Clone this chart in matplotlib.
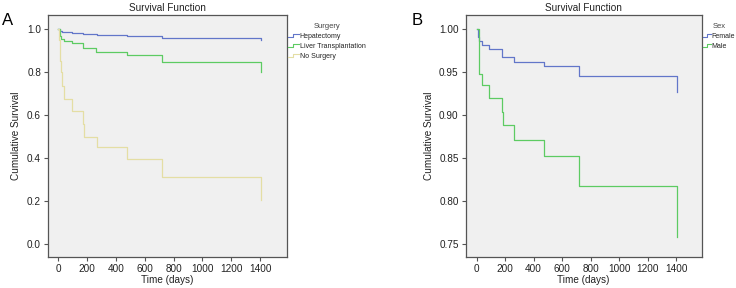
import matplotlib
matplotlib.use('Agg')
import matplotlib.pyplot as plt
from matplotlib.lines import Line2D
from matplotlib.legend_handler import HandlerBase

plt.rcParams['font.family'] = ['Liberation Sans', 'DejaVu Sans']

# survival data (days, cumulative survival)
HEP_TIME = [0, 10, 25, 93, 174, 266, 475, 717, 1405]
HEP_SURV = [1.0, 0.993, 0.988, 0.984, 0.977, 0.972, 0.966, 0.957, 0.948]

LT_TIME = [0, 10, 20, 40, 93, 174, 265, 475, 717, 1405]
LT_SURV = [1.0, 0.97, 0.955, 0.945, 0.935, 0.911, 0.894, 0.878, 0.847, 0.80]

NS_TIME = [0, 5, 10, 15, 20, 25, 40, 93, 174, 180, 266, 475, 717, 1405]
NS_SURV = [1.0, 0.95, 0.90, 0.85, 0.80, 0.735, 0.677, 0.62, 0.56, 0.50, 0.45, 0.398, 0.31, 0.205]

FEMALE_TIME = [0, 12, 18, 40, 89, 175, 180, 262, 475, 718, 1405]
FEMALE_SURV = [1.0, 0.991, 0.986, 0.982, 0.977, 0.972, 0.967, 0.962, 0.957, 0.945, 0.927]

MALE_TIME = [0, 15, 20, 40, 89, 175, 182, 262, 475, 718, 1405]
MALE_SURV = [1.0, 0.97, 0.948, 0.935, 0.92, 0.904, 0.888, 0.871, 0.852, 0.817, 0.758]

SURGERY_LABELS = ['Hepatectomy', 'Liver Transplantation', 'No Surgery']
SEX_LABELS = ['Female', 'Male']

X_TICKS = [0, 200, 400, 600, 800, 1000, 1200, 1400]
Y_TICKS_A = [0.0, 0.2, 0.4, 0.6, 0.8, 1.0]
Y_TICKS_B = [0.75, 0.80, 0.85, 0.90, 0.95, 1.00]

BLUE = '#6276c9'
GREEN = '#5dcb62'
YELLOW = '#e4dea4'
AX_BG = '#f0f0f0'
SPINE = '#555555'
TEXT = '#222222'


class StepHandler(HandlerBase):
    # SPSS style legend glyph: low on the left, step up, high on the right
    def create_artists(self, legend, orig, xd, yd, width, height, fontsize, trans):
        xs = [xd, xd + width * 0.45, xd + width * 0.45, xd + width]
        ys = [yd + height * 0.2, yd + height * 0.2, yd + height * 0.8, yd + height * 0.8]
        line = Line2D(xs, ys, color=orig.get_color(), lw=0.8)
        line.set_transform(trans)
        return [line]


def draw_panel(ax, curves, colors, labels, title, xlim, ylim, yticks, yfmt,
               legend_title, handle_len):
    ax.set_facecolor(AX_BG)
    handles = []
    for (t, s), c, lab in zip(curves, colors, labels):
        h, = ax.step(t, s, where='post', color=c, lw=0.9, label=lab)
        handles.append(h)
    ax.set_xlim(xlim)
    ax.set_ylim(ylim)
    ax.set_xticks(X_TICKS)
    ax.set_yticks(yticks)
    ax.set_yticklabels([yfmt.format(v) for v in yticks])
    ax.tick_params(direction='out', length=3, width=0.8, color=SPINE,
                   labelsize=7.2, labelcolor=TEXT, pad=2)
    for sp in ax.spines.values():
        sp.set_color(SPINE)
        sp.set_linewidth(0.9)
    ax.set_title(title, fontsize=7.2, color=TEXT, pad=3)
    ax.set_xlabel('Time (days)', fontsize=7.2, color=TEXT, labelpad=1)
    ax.set_ylabel('Cumulative Survival', fontsize=7.2, color=TEXT, labelpad=4)
    leg = ax.legend(handles=handles, title=legend_title, loc='upper left',
                    bbox_to_anchor=(1.0, 0.975), frameon=False, fontsize=5,
                    title_fontproperties={'size': 5.5}, handlelength=handle_len,
                    handletextpad=0.05, labelspacing=0.45, borderaxespad=0.0,
                    borderpad=0.2, handler_map={Line2D: StepHandler()})
    for txt in leg.get_texts():
        txt.set_color(TEXT)
    leg.get_title().set_color('#444444')
    return ax


fig = plt.figure(figsize=(7.36, 2.88), dpi=100)
fig.patch.set_facecolor('white')

ax_a = fig.add_axes([0.0652, 0.1076, 0.3247, 0.840])
draw_panel(ax_a,
           [(HEP_TIME, HEP_SURV), (LT_TIME, LT_SURV), (NS_TIME, NS_SURV)],
           [BLUE, GREEN, YELLOW], SURGERY_LABELS, 'Survival Function',
           (-71.5, 1587), (-0.06, 1.065), Y_TICKS_A, '{:.1f}', 'Surgery', 1.6)

ax_b = fig.add_axes([0.6327, 0.1076, 0.3207, 0.840])
draw_panel(ax_b,
           [(FEMALE_TIME, FEMALE_SURV), (MALE_TIME, MALE_SURV)],
           [BLUE, GREEN], SEX_LABELS, 'Survival Function',
           (-77, 1580), (0.7349, 1.0163), Y_TICKS_B, '{:.2f}', 'Sex', 1.1)

fig.text(0.002, 0.955, 'A', fontsize=12, va='top', ha='left', color='black')
fig.text(0.559, 0.955, 'B', fontsize=12, va='top', ha='left', color='black')

fig.savefig('out.png', dpi=100, facecolor='white')
